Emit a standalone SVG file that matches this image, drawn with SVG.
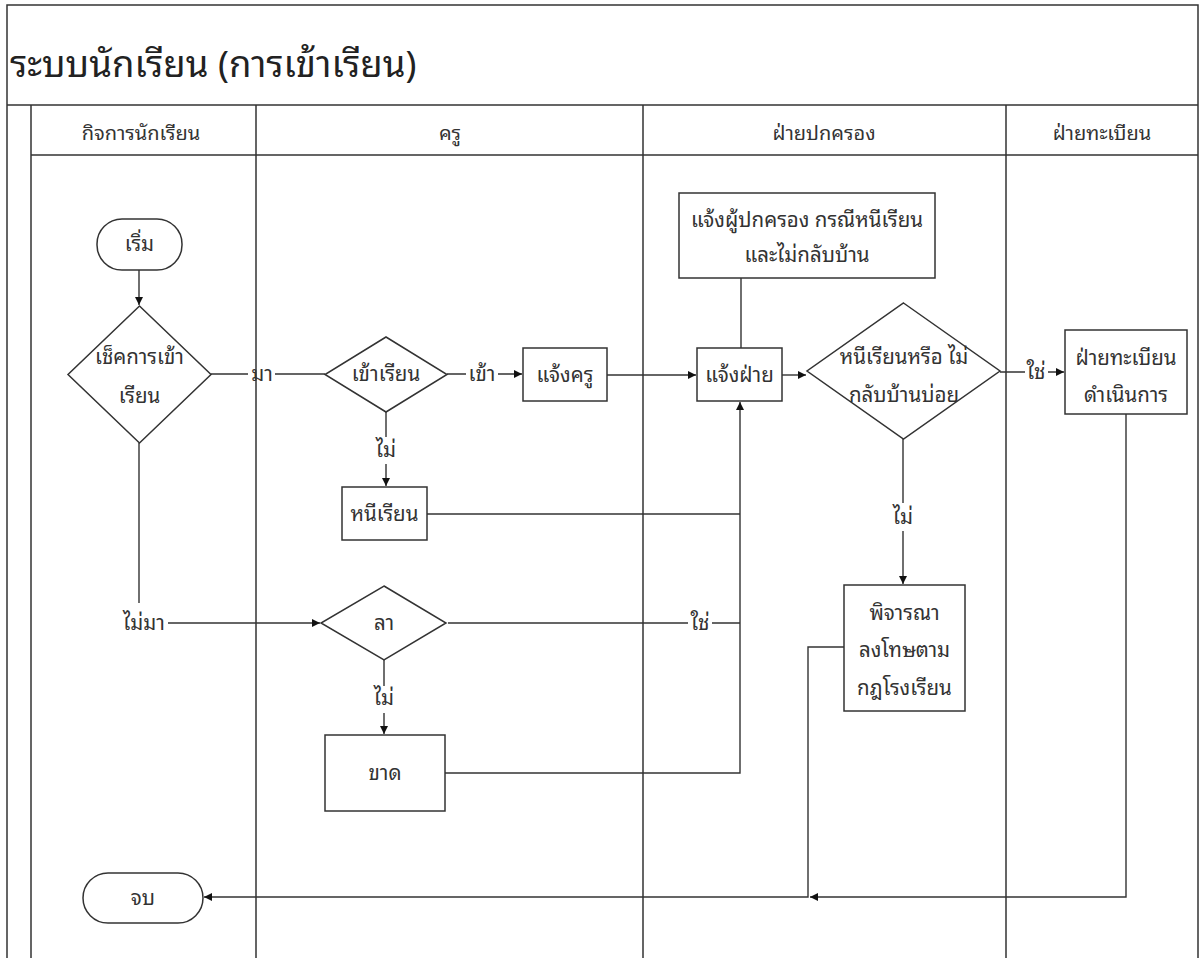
<svg xmlns="http://www.w3.org/2000/svg" width="1201" height="958" viewBox="0 0 1201 958">
<style>
text{font-family:"Noto Sans Thai Looped","Loma","Garuda","Waree","Tahoma","Noto Sans Thai","DejaVu Sans","Noto Sans",sans-serif;font-size:20.5px;fill:#333;text-anchor:middle}
.t{font-size:36.5px;text-anchor:start;fill:#222}
.h{font-size:20px}
.frame{fill:none;stroke:#333;stroke-width:1.5}
.shape{fill:#fff;stroke:#333;stroke-width:1.5}
.c{fill:none;stroke:#333;stroke-width:1.4}
</style>
<defs>
<marker id="a" markerWidth="10" markerHeight="10" refX="9" refY="5" orient="auto" markerUnits="userSpaceOnUse">
<path d="M1,1 L9,5 L1,9 Z" fill="#111"/>
</marker>
</defs>
<rect width="1201" height="958" fill="#fff"/>
<g id="frame">
<path class="frame" d="M7,958 V5 H1198 V958 M7,105 H1198 M31,105 V958 M31,155 H1198 M256,105 V958 M643,105 V958 M1006,105 V958"/>
<text class="t" x="10" y="77">ระบบนักเรียน (การเข้าเรียน)</text>
<text class="h" x="141" y="140">กิจการนักเรียน</text>
<text class="h" x="450" y="140">ครู</text>
<text class="h" x="824" y="140">ฝ่ายปกครอง</text>
<text class="h" x="1102" y="140">ฝ่ายทะเบียน</text>
</g>
<g id="connectors">
<path class="c" d="M139,270 V305" marker-end="url(#a)"/>
<path class="c" d="M211,374 H248 M275,374 H325"/>
<text x="262" y="381">มา</text>
<path class="c" d="M447,374 H466 M498,374 H522" marker-end="url(#a)"/>
<text x="482" y="381">เข้า</text>
<path class="c" d="M386,412 V437 M386,464 V486" marker-end="url(#a)"/>
<text x="386" y="457">ไม่</text>
<path class="c" d="M607,375 H696" marker-end="url(#a)"/>
<path class="c" d="M741,348 V278"/>
<path class="c" d="M782,375 H806" marker-end="url(#a)"/>
<path class="c" d="M1000,372 H1025 M1048,372 H1064" marker-end="url(#a)"/>
<text x="1036" y="379">ใช่</text>
<path class="c" d="M903,439 V503 M903,531 V584" marker-end="url(#a)"/>
<text x="903" y="524">ไม่</text>
<path class="c" d="M427,514 H740"/>
<path class="c" d="M448,623 H688 M712,623 H740"/>
<text x="700" y="630">ใช่</text>
<path class="c" d="M445,773 H740 V402" marker-end="url(#a)"/>
<path class="c" d="M139,443 V603"/>
<text x="144" y="630">ไม่มา</text>
<path class="c" d="M168,623 H320" marker-end="url(#a)"/>
<path class="c" d="M384,660 V686 M384,713 V734" marker-end="url(#a)"/>
<text x="384" y="705">ไม่</text>
<path class="c" d="M844,647 H808 V897 H204" marker-end="url(#a)"/>
<path class="c" d="M1126,414 V897 H810" marker-end="url(#a)"/>
</g>
<g id="start">
<rect class="shape" x="97" y="219" width="85" height="51" rx="25" ry="25"/>
<text x="139.5" y="251">เริ่ม</text>
</g>
<g id="check">
<polygon class="shape" points="139.5,306 211,374.5 139.5,443 68,374.5"/>
<text x="139.5" y="364">เช็คการเข้า</text>
<text x="139.5" y="403">เรียน</text>
</g>
<g id="attend">
<polygon class="shape" points="386,337 447,374.5 386,412 325,374.5"/>
<text x="386" y="381">เข้าเรียน</text>
</g>
<g id="notify-teacher">
<rect class="shape" x="523" y="348" width="84" height="53"/>
<text x="565" y="382">แจ้งครู</text>
</g>
<g id="truant">
<rect class="shape" x="342" y="487" width="85" height="53"/>
<text x="384.5" y="521">หนีเรียน</text>
</g>
<g id="leave">
<polygon class="shape" points="384,586 446,623 384,660 321,623"/>
<text x="384" y="630">ลา</text>
</g>
<g id="absent">
<rect class="shape" x="325" y="735" width="120" height="76"/>
<text x="385" y="780">ขาด</text>
</g>
<g id="notify-parent">
<rect class="shape" x="679" y="193" width="256" height="85"/>
<text x="807" y="227">แจ้งผู้ปกครอง กรณีหนีเรียน</text>
<text x="807" y="262">และไม่กลับบ้าน</text>
</g>
<g id="notify-dept">
<rect class="shape" x="697" y="348" width="85" height="53"/>
<text x="739.5" y="382">แจ้งฝ่าย</text>
</g>
<g id="decide">
<polygon class="shape" points="903.5,303 1000,371 903.5,439 807,371"/>
<text x="904" y="364">หนีเรียนหรือ ไม่</text>
<text x="904" y="402">กลับบ้านบ่อย</text>
</g>
<g id="registrar">
<rect class="shape" x="1065" y="330" width="122" height="84"/>
<text x="1126" y="365">ฝ่ายทะเบียน</text>
<text x="1126" y="402">ดำเนินการ</text>
</g>
<g id="punish">
<rect class="shape" x="844" y="585" width="121" height="126"/>
<text x="904.5" y="620">พิจารณา</text>
<text x="904.5" y="657">ลงโทษตาม</text>
<text x="904.5" y="695">กฎโรงเรียน</text>
</g>
<g id="end">
<rect class="shape" x="83" y="873" width="120" height="50" rx="25" ry="25"/>
<text x="143" y="905">จบ</text>
</g>
</svg>
